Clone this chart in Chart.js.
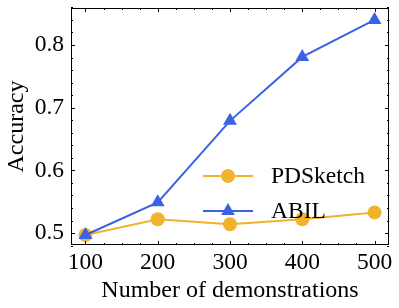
<!DOCTYPE html>
<html>
<head>
<meta charset="utf-8">
<script src="https://cdn.jsdelivr.net/npm/chart.js@4"></script>
<style>
  html, body { margin: 0; padding: 0; background: #fff; }
  #box { width: 399px; height: 308px; }
</style>
</head>
<body>
<div id="box"><canvas id="grafico"></canvas></div>
<script>
// dados
const demos = [100, 200, 300, 400, 500];
const pdsketch = [0.497, 0.522, 0.514, 0.522, 0.533];
const abil = [0.497, 0.549, 0.679, 0.781, 0.840];
const xTicks = [100, 200, 300, 400, 500];
const yTicks = [0.5, 0.6, 0.7, 0.8];

const FONTE = '"Liberation Serif", "DejaVu Serif", serif';
const AZUL = '#3b62e3';
const LARANJA = '#f2b32c';

// ticks para dentro, nos quatro lados (estilo matplotlib)
const ticksDentro = {
  id: 'ticksDentro',
  afterDraw(chart) {
    const ctx = chart.ctx;
    const a = chart.chartArea;
    const sx = chart.scales.x, sy = chart.scales.y;
    ctx.save();
    ctx.strokeStyle = '#000';
    ctx.lineWidth = 1;
    ctx.beginPath();
    for (let v = 100; v <= 500; v += 25) {
      const x = Math.round(sx.getPixelForValue(v)) + 0.5;
      const len = (v % 100 === 0) ? 4 : 2;
      ctx.moveTo(x, a.bottom); ctx.lineTo(x, a.bottom - len);
      ctx.moveTo(x, a.top); ctx.lineTo(x, a.top + len);
    }
    for (let i = 24; i <= 43; i++) {
      const v = i / 50;
      const y = Math.round(sy.getPixelForValue(v)) + 0.5;
      const len = (i % 5 === 0) ? 4 : 2;
      ctx.moveTo(a.left, y); ctx.lineTo(a.left + len, y);
      ctx.moveTo(a.right, y); ctx.lineTo(a.right - len, y);
    }
    ctx.stroke();
    ctx.strokeRect(a.left + 0.5, a.top + 0.5, a.right - a.left - 1, a.bottom - a.top - 1);
    ctx.restore();
  }
};

// legenda com linha + marcador
const legendaLinha = {
  id: 'legendaLinha',
  afterDraw(chart) {
    const ctx = chart.ctx;
    const x0 = 203, x1 = 253, tx = 271;
    const linhas = [176, 211];
    ctx.save();
    chart.data.datasets.forEach((ds, i) => {
      const y = linhas[i];
      ctx.strokeStyle = ds.borderColor;
      ctx.lineWidth = ds.borderWidth;
      ctx.beginPath();
      ctx.moveTo(x0, y); ctx.lineTo(x1, y);
      ctx.stroke();
      ctx.fillStyle = ds.pointBackgroundColor;
      Chart.helpers.drawPoint(ctx, {
        pointStyle: ds.pointStyle, radius: ds.pointRadius, borderWidth: 0
      }, (x0 + x1) / 2, y);
      ctx.fillStyle = '#000';
      ctx.font = '23.5px ' + FONTE;
      ctx.textBaseline = 'middle';
      ctx.fillText(ds.label, tx, y + 1);
    });
    ctx.restore();
  }
};

new Chart(document.getElementById('grafico'), {
  type: 'line',
  data: {
    labels: demos,
    datasets: [{
      label: 'PDSketch',
      data: demos.map((d, i) => ({ x: d, y: pdsketch[i] })),
      borderColor: LARANJA,
      backgroundColor: LARANJA,
      pointBackgroundColor: LARANJA,
      pointBorderWidth: 0,
      pointStyle: 'circle',
      pointRadius: 7,
      borderWidth: 2,
      order: 1
    }, {
      label: 'ABIL',
      data: demos.map((d, i) => ({ x: d, y: abil[i] })),
      borderColor: AZUL,
      backgroundColor: AZUL,
      pointBackgroundColor: AZUL,
      pointBorderWidth: 0,
      pointStyle: 'triangle',
      pointRadius: 8,
      borderWidth: 2,
      order: 0
    }]
  },
  options: {
    responsive: true,
    maintainAspectRatio: false,
    animation: false,
    layout: { padding: { top: 6, right: 10, left: 0, bottom: 0 } },
    plugins: { legend: { display: false }, tooltip: { enabled: false } },
    scales: {
      x: {
        type: 'linear',
        min: 80, max: 520,
        grid: { display: false, drawTicks: false },
        border: { display: false },
        afterBuildTicks: (s) => { s.ticks = xTicks.map(v => ({ value: v })); },
        afterFit: (s) => { s.height = 63; s.paddingLeft = 0; s.paddingRight = 0; },
        ticks: { color: '#000', font: { family: FONTE, size: 23.5 }, padding: 4, maxRotation: 0 },
        title: { display: true, text: 'Number of demonstrations', color: '#000', font: { family: FONTE, size: 24 }, padding: { top: 0, bottom: 3 } }
      },
      y: {
        min: 0.481, max: 0.859,
        grid: { display: false, drawTicks: false },
        border: { display: false },
        afterBuildTicks: (s) => { s.ticks = yTicks.map(v => ({ value: v })); },
        afterFit: (s) => { s.width = 71; s.paddingTop = 0; s.paddingBottom = 0; },
        ticks: { color: '#000', font: { family: FONTE, size: 23.5 }, padding: 7, callback: (v) => v.toFixed(1) },
        title: { display: true, text: 'Accuracy', color: '#000', font: { family: FONTE, size: 24 }, padding: { top: 2, bottom: 0 } }
      }
    }
  },
  plugins: [ticksDentro, legendaLinha]
});
</script>
</body>
</html>
